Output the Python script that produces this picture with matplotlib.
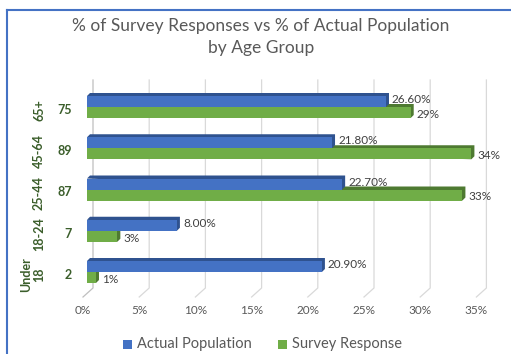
import matplotlib
matplotlib.use('Agg')
import matplotlib.pyplot as plt
from matplotlib.patches import Polygon, Rectangle
from matplotlib.lines import Line2D
from matplotlib.transforms import blended_transform_factory

plt.rcParams['font.family'] = ['Lato', 'DejaVu Sans']

# survey data per age group (top to bottom)
age_groups = ['65+', '45-64', '25-44', '18-24', 'Under\n18']
response_counts = ['75', '89', '87', '7', '2']
actual_population = [26.6, 21.8, 22.7, 8.0, 20.9]
survey_response = [28.8, 34.2, 33.4, 2.7, 0.8]
x_ticks = [0, 5, 10, 15, 20, 25, 30, 35]

BLUE = '#4472C4'
BLUE_DARK = '#2F528F'
GREEN = '#70AD47'
GREEN_DARK = '#4E7A31'
GRID = '#D9D9D9'
TEXT = '#595959'
CAT = '#3B5E2B'

W, H = 511, 354
XS = 11.24   # pixels per percent
YS = 41.25   # pixels per category
Y0 = 107     # pixel row of first category


def dx(px):
    return px / XS


def dy(px):
    return px / YS


def draw_bar(ax, y, w, h, face, dark, depth=3):
    # flat face plus a darker top/side strip for the 3D look
    top, bot = y - h / 2, y + h / 2
    ox, oy = dx(depth), dy(depth)
    shade = Polygon([(0, top), (ox, top - oy), (w + ox, top - oy),
                     (w + ox, bot - oy), (w, bot)], closed=True,
                    facecolor=dark, edgecolor='none', zorder=2)
    ax.add_patch(shade)
    ax.add_patch(Rectangle((0, top), w, h, facecolor=face,
                           edgecolor='none', zorder=3))


fig = plt.figure(figsize=(W / 100, H / 100), dpi=100)
ax_top, ax_bot = 78, 300
ax = fig.add_axes([87 / W, 1 - ax_bot / H, 37 * XS / W, (ax_bot - ax_top) / H])
ax.set_xlim(0, 37)
ax.set_ylim(dy(ax_bot - Y0), dy(ax_top - Y0))
ax.axis('off')

# back wall gridlines with the floor edge
g_top, g_bot, g_front = dy(80 - Y0), dy(288 - Y0), dy(297 - Y0)
for v in x_ticks:
    col = '#BFBFBF' if v == 0 else GRID
    ax.plot([v + dx(6), v + dx(6), v + dx(-4)], [g_top, g_bot, g_front],
            color=col, lw=0.9, clip_on=False, zorder=0)
    ax.text(v + dx(-4), dy(311 - Y0), f'{v}%', ha='center', va='center',
            fontsize=8.5, color=TEXT)

h = dy(11)
for i in range(len(age_groups)):
    a, s = actual_population[i], survey_response[i]
    yb, yg = i - h / 2, i + h / 2
    draw_bar(ax, yg, s, h, GREEN, GREEN_DARK)
    draw_bar(ax, yb, a, h, BLUE, BLUE_DARK)
    ax.text(a + dx(6), yb - dy(2), f'{a:.2f}%', ha='left', va='center',
            fontsize=8.5, color='#404040', zorder=5)
    ax.text(s + dx(6), yg + dy(2), f'{s:.0f}%', ha='left', va='center',
            fontsize=8.5, color='#404040', zorder=5)

# two-level category labels on the left
cat_tr = blended_transform_factory(fig.transFigure, ax.transData)
for i, (grp, cnt) in enumerate(zip(age_groups, response_counts)):
    ax.text(72 / W, i + dy(3), cnt, transform=cat_tr, ha='right',
            va='center', fontsize=9, fontweight='bold', color=CAT)
    ax.text(45 / W, i + dy(3), grp, transform=cat_tr, ha='right',
            va='center', rotation=90, fontsize=9, fontweight='bold',
            color=CAT, multialignment='center', linespacing=1.1)

# title
fig.text(261 / W, 1 - 26 / H, '% of Survey Responses vs % of Actual Population',
         ha='center', va='center', fontsize=12.5, color=TEXT)
fig.text(261 / W, 1 - 48 / H, 'by Age Group', ha='center', va='center',
         fontsize=12.5, color=TEXT)

# legend
for x0, label, col in [(123, 'Actual Population', BLUE),
                       (278, 'Survey Response', GREEN)]:
    fig.patches.append(Rectangle((x0 / W, 1 - 349 / H), 9 / W, 9 / H,
                                 facecolor=col, edgecolor='none',
                                 transform=fig.transFigure))
    fig.text((x0 + 14) / W, 1 - 344 / H, label, ha='left', va='center',
             fontsize=10.5, color=TEXT)

# chart border
fig.add_artist(Line2D([7 / W, 7 / W], [0, 1 - 10 / H], color=BLUE, lw=1.5,
                      transform=fig.transFigure))
fig.add_artist(Line2D([7 / W, 1], [1 - 10 / H, 1 - 10 / H], color=BLUE, lw=1.5,
                      transform=fig.transFigure))

fig.savefig('out.png', dpi=100)
